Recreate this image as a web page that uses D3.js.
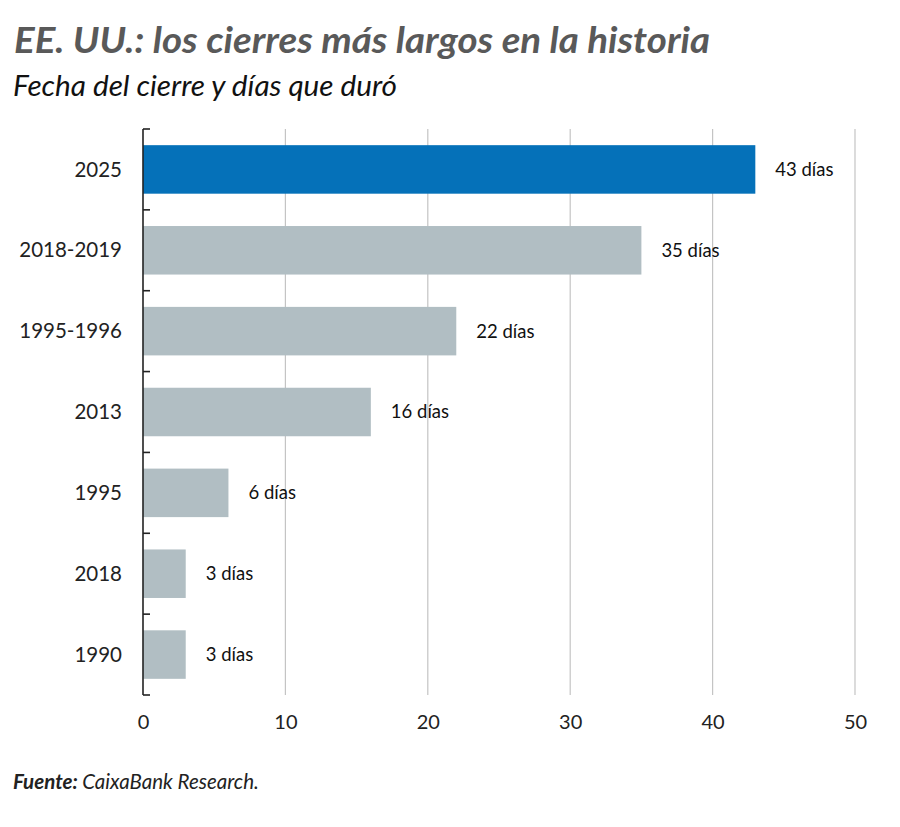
<!DOCTYPE html>
<html>
<head>
<meta charset="utf-8">
<script src="https://cdn.jsdelivr.net/npm/d3@7"></script>
<style>
  body { margin: 0; background: #fff; }
  svg text { font-family: "Lato", "Open Sans", sans-serif; }
</style>
</head>
<body>
<svg id="chart" width="900" height="827"></svg>
<script>
// data
var periods = ["2025", "2018-2019", "1995-1996", "2013", "1995", "2018", "1990"];
var days = [43, 35, 22, 16, 6, 3, 3];
var xTicks = [0, 10, 20, 30, 40, 50];

var svg = d3.select("svg#chart"),
	margin = { top: 129, right: 45, bottom: 132, left: 143 },
	width = svg.attr("width") - margin.left - margin.right,
	height = svg.attr("height") - margin.top - margin.bottom,
	g = svg.append("g").attr("transform", "translate(" + margin.left + "," + margin.top + ")");

var x = d3.scaleLinear().domain([0, 50]).range([0, width]);
var y = d3.scaleBand().domain(periods).range([0, height]).paddingInner(0.4).paddingOuter(0.2);

// gridlines
g.selectAll("line.grid")
	.data(xTicks.slice(1))
	.enter().append("line")
	.attr("class", "grid")
	.attr("x1", function (d) { return x(d); })
	.attr("x2", function (d) { return x(d); })
	.attr("y1", 0)
	.attr("y2", height)
	.attr("stroke", "#c4c4c4")
	.attr("stroke-width", 1.2);

// bars
g.selectAll("rect.bar")
	.data(periods)
	.enter().append("rect")
	.attr("class", "bar")
	.attr("x", x(0))
	.attr("y", function (d) { return y(d); })
	.attr("width", function (d, i) { return x(days[i]) - x(0); })
	.attr("height", y.bandwidth())
	.attr("fill", function (d, i) { return i === 0 ? "#0571b9" : "#b1bec3"; });

// value labels
g.selectAll("text.val")
	.data(periods)
	.enter().append("text")
	.attr("class", "val")
	.attr("x", function (d, i) { return x(days[i]) + 20; })
	.attr("y", function (d) { return y(d) + y.bandwidth() / 2; })
	.attr("dy", "0.35em")
	.attr("font-size", "18.5px")
	.attr("fill", "#111")
	.text(function (d, i) { return days[i] + " días"; });

// y axis: line with inward ticks at band boundaries
var boundaries = d3.range(periods.length + 1).map(function (i) { return i * height / periods.length; });
g.append("line")
	.attr("x1", 0).attr("x2", 0)
	.attr("y1", 0).attr("y2", height)
	.attr("stroke", "#222").attr("stroke-width", 1.6);
g.selectAll("line.ytick")
	.data(boundaries)
	.enter().append("line")
	.attr("class", "ytick")
	.attr("x1", 0).attr("x2", 7)
	.attr("y1", function (d) { return d; })
	.attr("y2", function (d) { return d; })
	.attr("stroke", "#222").attr("stroke-width", 1.6);

// category labels
g.selectAll("text.cat")
	.data(periods)
	.enter().append("text")
	.attr("class", "cat")
	.attr("x", -21)
	.attr("y", function (d) { return y(d) + y.bandwidth() / 2; })
	.attr("dy", "0.35em")
	.attr("text-anchor", "end")
	.attr("font-size", "20.5px")
	.attr("fill", "#222")
	.text(function (d) { return d; });

// x axis labels
var xAxis = g.append("g")
	.attr("transform", "translate(0," + height + ")")
	.call(d3.axisBottom(x).tickValues(xTicks).tickSize(0).tickPadding(20));
xAxis.select(".domain").remove();
xAxis.selectAll("text")
	.attr("font-size", "20px")
	.attr("fill", "#222")
	.style("font-family", "Lato, sans-serif");

// titles
svg.append("text")
	.attr("x", 14).attr("y", 53)
	.attr("font-size", "37px")
	.attr("font-weight", "bold")
	.attr("font-style", "italic")
	.attr("fill", "#595959")
	.attr("textLength", 696)
	.attr("lengthAdjust", "spacingAndGlyphs")
	.text("EE. UU.: los cierres más largos en la historia");

svg.append("text")
	.attr("x", 13).attr("y", 96)
	.attr("font-size", "28px")
	.attr("font-style", "italic")
	.attr("fill", "#111")
	.attr("textLength", 384)
	.attr("lengthAdjust", "spacingAndGlyphs")
	.text("Fecha del cierre y días que duró");

var src = svg.append("text")
	.attr("x", 13).attr("y", 789)
	.attr("font-size", "20.5px")
	.attr("font-style", "italic")
	.attr("fill", "#222");
src.append("tspan").attr("font-weight", "bold").text("Fuente: ");
src.append("tspan").text("CaixaBank Research.");
</script>
</body>
</html>
